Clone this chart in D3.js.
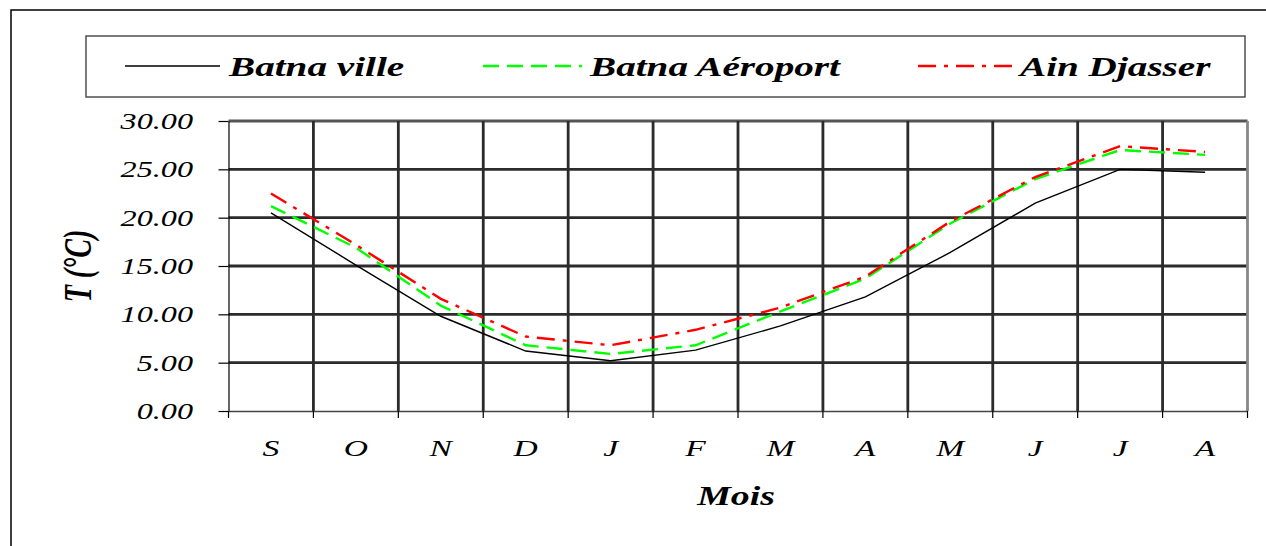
<!DOCTYPE html>
<html>
<head>
<meta charset="utf-8">
<script src="https://cdn.jsdelivr.net/npm/d3@7"></script>
<style>
  body { margin: 0; background: #fff; }
  svg { display: block; font-family: "Liberation Serif", "Times New Roman", serif; }
</style>
</head>
<body>
<script>
// monthly mean temperature (°C), September -> August
const months = ["S", "O", "N", "D", "J", "F", "M", "A", "M", "J", "J", "A"];
const batnaVille = [20.5, 15.1, 9.8, 6.2, 5.2, 6.3, 8.8, 11.8, 16.4, 21.5, 25.0, 24.7];
const batnaAeroport = [21.2, 16.9, 10.9, 6.8, 5.9, 6.8, 10.3, 13.7, 19.4, 24.0, 27.0, 26.5];
const ainDjasser = [22.5, 17.2, 11.6, 7.7, 6.8, 8.4, 10.7, 13.9, 19.6, 24.2, 27.4, 26.8];
const yTicks = [0, 5, 10, 15, 20, 25, 30];

const width = 1266;
const height = 546;
const stretch = 1.4; // the original picture is widened horizontally

const series = [
  { name: "Batna ville", values: batnaVille, color: "#000", width: 1.4, dash: null },
  { name: "Batna Aéroport", values: batnaAeroport, color: "#00ff00", width: 2.4, dash: "16,8" },
  { name: "Ain Djasser", values: ainDjasser, color: "#ff0000", width: 2.4, dash: "18,8,4,8" },
];

const svg = d3.select("body").append("svg")
  .attr("width", width)
  .attr("height", height);

// outer frame (right and bottom edges are cut off)
svg.append("rect")
  .attr("x", 11).attr("y", 10)
  .attr("width", 1300).attr("height", 600)
  .attr("fill", "none").attr("stroke", "#000").attr("stroke-width", 1.5);

const plotLeft = 228.5, plotRight = 1247.5, plotTop = 121, plotBottom = 411;

const x = d3.scaleBand().domain(d3.range(months.length)).range([plotLeft, plotRight]);
const y = d3.scaleLinear().domain([0, 30]).range([plotBottom, plotTop]);
const edgeX = (i) => (i === months.length ? plotRight : x(i));

// grid
const grid = svg.append("g");
grid.selectAll("line.h")
  .data(yTicks.filter((t) => t > 0))
  .join("line")
  .attr("x1", plotLeft).attr("x2", plotRight)
  .attr("y1", (d) => y(d)).attr("y2", (d) => y(d))
  .attr("stroke", (d) => (d === 30 ? "#555" : "#2b2b2b"))
  .attr("stroke-width", 2.8);
grid.selectAll("line.v")
  .data(d3.range(1, months.length + 1))
  .join("line")
  .attr("x1", edgeX).attr("x2", edgeX)
  .attr("y1", plotTop).attr("y2", plotBottom)
  .attr("stroke", (d) => (d === months.length ? "#888" : "#2b2b2b"))
  .attr("stroke-width", 2.8);

// axes
const yAxis = svg.append("g")
  .attr("transform", `translate(${plotLeft},0)`)
  .call(d3.axisLeft(y).tickValues(yTicks).tickSize(10).tickSizeOuter(0).tickFormat(""));
yAxis.select(".domain").attr("stroke", "#000").attr("stroke-width", 1.2);
yAxis.selectAll(".tick line").attr("stroke", "#000").attr("stroke-width", 1.2);

const xAxis = svg.append("g")
  .attr("transform", `translate(0,${plotBottom})`)
  .call(d3.axisBottom(x).tickSize(0).tickSizeOuter(0).tickFormat(""));
xAxis.select(".domain").attr("stroke", "#444").attr("stroke-width", 1.6);
svg.append("g").selectAll("line")
  .data(d3.range(0, months.length + 1))
  .join("line")
  .attr("x1", edgeX).attr("x2", edgeX)
  .attr("y1", plotBottom).attr("y2", plotBottom + 7)
  .attr("stroke", "#000").attr("stroke-width", 1.2);

// tick labels
svg.append("g").selectAll("text")
  .data(yTicks)
  .join("text")
  .attr("transform", (d) => `translate(193,${y(d) + 8}) scale(${stretch},1)`)
  .attr("text-anchor", "end")
  .attr("font-size", 23)
  .attr("font-style", "italic")
  .text((d) => d3.format(".2f")(d));

svg.append("g").selectAll("text")
  .data(months)
  .join("text")
  .attr("transform", (d, i) => `translate(${x(i) + x.bandwidth() / 2},456) scale(${stretch},1)`)
  .attr("text-anchor", "middle")
  .attr("font-size", 24)
  .attr("font-style", "italic")
  .text((d) => d);

// axis titles
svg.append("text")
  .attr("transform", `translate(736,505) scale(${stretch},1)`)
  .attr("text-anchor", "middle")
  .attr("font-size", 27)
  .attr("font-weight", "bold")
  .attr("font-style", "italic")
  .text("Mois");

svg.append("text")
  .attr("transform", `translate(91,266) scale(${stretch},1) rotate(-90)`)
  .attr("text-anchor", "middle")
  .attr("font-size", 28)
  .attr("font-weight", "bold")
  .attr("font-style", "italic")
  .text("T (°C)");

// series
const line = d3.line()
  .x((d, i) => x(i) + x.bandwidth() / 2)
  .y((d) => y(d));

svg.append("g").selectAll("path")
  .data(series)
  .join("path")
  .attr("d", (d) => line(d.values))
  .attr("fill", "none")
  .attr("stroke", (d) => d.color)
  .attr("stroke-width", (d) => d.width)
  .attr("stroke-dasharray", (d) => d.dash);

// legend
svg.append("rect")
  .attr("x", 86).attr("y", 36)
  .attr("width", 1159).attr("height", 61)
  .attr("fill", "#fff").attr("stroke", "#444").attr("stroke-width", 1.4);

const legendPos = [
  { x1: 125, x2: 220, tx: 229 },
  { x1: 483, x2: 582, tx: 590 },
  { x1: 918, x2: 1012, tx: 1020 },
];

const legend = svg.append("g").selectAll("g")
  .data(series)
  .join("g");
legend.append("line")
  .attr("x1", (d, i) => legendPos[i].x1).attr("x2", (d, i) => legendPos[i].x2)
  .attr("y1", 66).attr("y2", 66)
  .attr("stroke", (d) => d.color)
  .attr("stroke-width", (d) => d.width)
  .attr("stroke-dasharray", (d) => d.dash);
legend.append("text")
  .attr("transform", (d, i) => `translate(${legendPos[i].tx},76) scale(${stretch},1)`)
  .attr("font-size", 28)
  .attr("font-weight", "bold")
  .attr("font-style", "italic")
  .text((d) => d.name);
</script>
</body>
</html>
